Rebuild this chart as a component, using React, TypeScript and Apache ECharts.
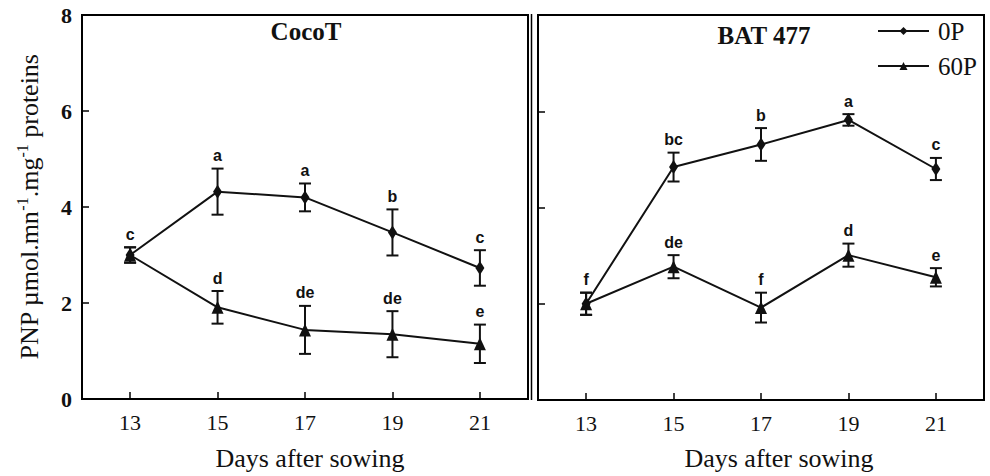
import React, { useEffect, useRef } from "react";
import * as echarts from "echarts";

const days = [13, 15, 17, 19, 21];
const xTicks = [13, 15, 17, 19, 21];

// CocoT panel
const coco0P = [3.0, 4.32, 4.2, 3.47, 2.73];
const coco0PErr = [0.16, 0.48, 0.29, 0.48, 0.37];
const coco0PLetters = ["c", "a", "a", "b", "c"];
const coco60P = [3.0, 1.91, 1.44, 1.35, 1.15];
const coco60PErr = [0.16, 0.34, 0.5, 0.48, 0.4];
const coco60PLetters = ["", "d", "de", "de", "e"];

// BAT 477 panel
const bat0P = [2.0, 4.84, 5.31, 5.82, 4.8];
const bat0PErr = [0.23, 0.3, 0.34, 0.12, 0.23];
const bat0PLetters = ["f", "bc", "b", "a", "c"];
const bat60P = [2.0, 2.77, 1.92, 3.01, 2.55];
const bat60PErr = [0.23, 0.24, 0.31, 0.24, 0.19];
const bat60PLetters = ["", "de", "f", "d", "e"];

const panelTitles = ["CocoT", "BAT 477"];
const seriesNames = ["0P", "60P"];
const xName = "Days after sowing";

const SERIF = '"Liberation Serif", "Times New Roman", serif';
const SANS = '"Liberation Sans", Arial, sans-serif';
const INK = "#111";

function errSeries(means: number[], errs: number[], letters: string[], g: number) {
  return {
    type: "custom",
    xAxisIndex: g,
    yAxisIndex: g,
    z: 2,
    silent: true,
    data: days.map((d, i) => [d, means[i], errs[i]]),
    renderItem: (params: any, api: any) => {
      const x = api.value(0);
      const m = api.value(1);
      const e = api.value(2);
      const top = api.coord([x, m + e]);
      const bot = api.coord([x, m - e]);
      const w = 6;
      const st = { stroke: INK, lineWidth: 2 };
      const children: any[] = [
        { type: "line", shape: { x1: top[0], y1: top[1], x2: bot[0], y2: bot[1] }, style: st },
        { type: "line", shape: { x1: top[0] - w, y1: top[1], x2: top[0] + w, y2: top[1] }, style: st },
        { type: "line", shape: { x1: bot[0] - w, y1: bot[1], x2: bot[0] + w, y2: bot[1] }, style: st },
      ];
      const lab = letters[params.dataIndex];
      if (lab) {
        children.push({
          type: "text",
          x: top[0],
          y: top[1] - 5,
          style: {
            text: lab,
            font: `bold 16px ${SANS}`,
            fill: INK,
            align: "center",
            verticalAlign: "bottom",
          },
        });
      }
      return { type: "group", children };
    },
  };
}

function lineSeries(name: string, vals: number[], g: number, symbol: string, size: number[]) {
  return {
    type: "line",
    name,
    xAxisIndex: g,
    yAxisIndex: g,
    z: 3,
    data: days.map((d, i) => [d, vals[i]]),
    symbol,
    symbolSize: size,
    itemStyle: { color: INK },
    lineStyle: { color: INK, width: 2 },
  };
}

export default function App() {
  const ref = useRef<HTMLDivElement>(null);
  useEffect(() => {
    if (!ref.current) return;
    const chart = echarts.init(ref.current, null, { renderer: "svg" });
    const grids = [
      { left: 82, top: 15, width: 446, height: 384 },
      { left: 538, top: 15, width: 446, height: 385 },
    ];
    const option: any = {
      animation: false,
      backgroundColor: "#fff",
      grid: grids.map((g) => ({
        ...g,
        show: true,
        borderColor: "#000",
        borderWidth: 2,
        backgroundColor: "transparent",
        containLabel: false,
      })),
      xAxis: [0, 1].map((i) => ({
        type: "value",
        gridIndex: i,
        min: 11.9,
        max: 22.1,
        splitLine: { show: false },
        axisLine: { show: true, lineStyle: { color: "#000", width: 2 } },
        axisTick: {
          show: true,
          inside: true,
          length: 7,
          customValues: xTicks,
          lineStyle: { color: "#000", width: 1.5 },
        },
        axisLabel: {
          customValues: xTicks,
          margin: 12,
          fontFamily: SERIF,
          fontSize: 22,
          color: INK,
        },
      })),
      yAxis: [0, 1].map((i) => ({
        type: "value",
        gridIndex: i,
        min: 0,
        max: 8,
        interval: 2,
        splitLine: { show: false },
        axisLine: { show: true, lineStyle: { color: "#000", width: 2 } },
        axisTick: { show: true, inside: true, length: 7, lineStyle: { color: "#000", width: 1.5 } },
        axisLabel: {
          show: i === 0,
          margin: 10,
          fontFamily: SERIF,
          fontWeight: "bold",
          fontSize: 22,
          color: INK,
        },
      })),
      legend: {
        data: seriesNames,
        orient: "vertical",
        left: 877,
        top: 18,
        padding: 0,
        itemWidth: 51,
        itemHeight: 10,
        itemGap: 9,
        textStyle: {
          fontFamily: SERIF,
          fontSize: 25,
          lineHeight: 26,
          color: INK,
          padding: [0, 0, 0, 4],
        },
      },
      graphic: [
        {
          type: "text",
          x: 306,
          y: 31,
          style: { text: panelTitles[0], font: `bold 25px ${SERIF}`, fill: INK, align: "center", verticalAlign: "middle" },
        },
        {
          type: "text",
          x: 764,
          y: 35,
          style: { text: panelTitles[1], font: `bold 25px ${SERIF}`, fill: INK, align: "center", verticalAlign: "middle" },
        },
        {
          type: "text",
          x: 310,
          y: 458,
          style: { text: xName, font: `26px ${SERIF}`, fill: INK, align: "center", verticalAlign: "middle" },
        },
        {
          type: "text",
          x: 779,
          y: 458,
          style: { text: xName, font: `26px ${SERIF}`, fill: INK, align: "center", verticalAlign: "middle" },
        },
        {
          type: "text",
          x: 29,
          y: 207,
          rotation: Math.PI / 2,
          style: {
            text: "PNP µmol.mn{s|-1}.mg{s|-1} proteins",
            font: `26px ${SERIF}`,
            fill: INK,
            align: "center",
            verticalAlign: "middle",
            lineHeight: 30,
            rich: {
              s: { fontFamily: SERIF, fontSize: 16, fill: INK, verticalAlign: "top", lineHeight: 30 },
            },
          },
        },
        {
          type: "line",
          shape: { x1: 531.5, y1: 14, x2: 531.5, y2: 400 },
          style: { stroke: "#000", lineWidth: 1.5 },
        },
      ],
      series: [
        errSeries(coco0P, coco0PErr, coco0PLetters, 0),
        errSeries(coco60P, coco60PErr, coco60PLetters, 0),
        lineSeries("0P", coco0P, 0, "diamond", [9, 14]),
        lineSeries("60P", coco60P, 0, "triangle", [12, 13]),
        errSeries(bat0P, bat0PErr, bat0PLetters, 1),
        errSeries(bat60P, bat60PErr, bat60PLetters, 1),
        lineSeries("0P", bat0P, 1, "diamond", [9, 14]),
        lineSeries("60P", bat60P, 1, "triangle", [12, 13]),
      ],
    };
    chart.setOption(option);
    return () => chart.dispose();
  }, []);
  return <div ref={ref} style={{ width: 990, height: 476, position: "absolute", left: 0, top: 0 }} />;
}
